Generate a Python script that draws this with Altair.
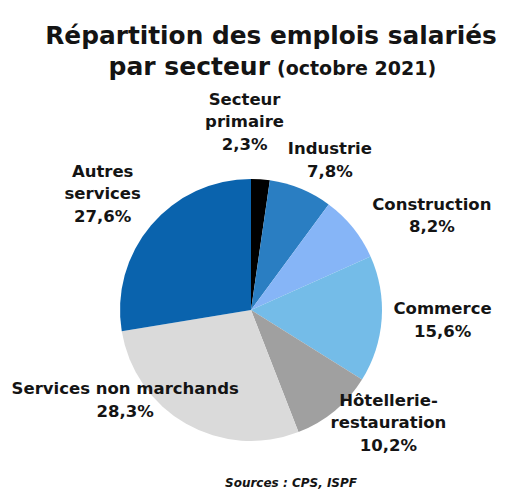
import altair as alt
import pandas as pd
import math

sectors = ["Secteur primaire", "Industrie", "Construction", "Commerce",
           "Hôtellerie-restauration", "Services non marchands", "Autres services"]
shares = [2.3, 7.8, 8.2, 15.6, 10.2, 28.3, 27.6]
labels = ["Secteur\nprimaire\n2,3%", "Industrie\n7,8%", "Construction\n8,2%",
          "Commerce\n15,6%", "Hôtellerie-\nrestauration\n10,2%",
          "Services non marchands\n28,3%", "Autres\nservices\n27,6%"]
colors = ["#000000", "#2A7EC2", "#86B5F7", "#74BCE8", "#A0A0A0", "#DADADA", "#0A63AD"]

df = pd.DataFrame({"secteur": sectors, "part": shares, "label": labels,
                   "ordre": list(range(len(sectors)))})

FONT = "DejaVu Sans"
CX, CY, R = 243, 302, 131
LH = 22.5

pie = alt.Chart(df).mark_arc(radius=R).encode(
    theta=alt.Theta("part:Q", stack=True),
    order=alt.Order("ordre:Q"),
    color=alt.Color("secteur:N", scale=alt.Scale(domain=sectors, range=colors), legend=None),
    x=alt.value(CX), y=alt.value(CY),
)

# label placement: (radius, dx, dy) per sector (dy = block centre offset)
place = {
    "Secteur primaire": (188, -20, 0),
    "Industrie": (168, 15, 6),
    "Construction": (204, 22, 34),
    "Commerce": (192, 0, -3),
    "Hôtellerie-restauration": (178, 24, -24),
    "Services non marchands": (155, -49, -44),
    "Autres services": (188, -5, 6),
}

lab_base = alt.Chart(df).transform_window(
    cum="sum(part)", sort=[alt.SortField("ordre")], frame=[None, 0]
).transform_joinaggregate(total="sum(part)").transform_calculate(
    mid="datum.cum - datum.part / 2"
)

text_layers = []
for s, lab in zip(sectors, labels):
    r, dx, dy = place[s]
    n = lab.count("\n") + 1
    t = lab_base.transform_filter(alt.datum.secteur == s).mark_text(
        radius=r, dx=dx, dy=dy - (n - 1) * LH / 2, font=FONT, fontWeight="bold",
        fontSize=16.5, lineBreak="\n", lineHeight=LH,
        align="center", baseline="middle", color="#141414").encode(
        theta=alt.Theta("mid:Q", stack=None,
                        scale=alt.Scale(domain=[0, 100], range=[0, 2 * math.pi])),
        text="label:N",
        x=alt.value(CX), y=alt.value(CY),
    )
    text_layers.append(t)

title_df = pd.DataFrame({"t1": ["Répartition des emplois salariés"], "t2": ["par secteur"],
                         "t3": ["(octobre 2021)"], "src": ["Sources : CPS, ISPF"]})
tb = alt.Chart(title_df)
t1 = tb.mark_text(font=FONT, fontWeight="bold", fontSize=24.8, align="center",
                  baseline="alphabetic", color="#141414").encode(
    text="t1:N", x=alt.value(263), y=alt.value(36))
t2 = tb.mark_text(font=FONT, fontWeight="bold", fontSize=25, align="right",
                  baseline="alphabetic", color="#141414").encode(
    text="t2:N", x=alt.value(262), y=alt.value(67))
t3 = tb.mark_text(font=FONT, fontWeight="bold", fontSize=19, align="left",
                  baseline="alphabetic", color="#141414").encode(
    text="t3:N", x=alt.value(269), y=alt.value(67))
src = tb.mark_text(font=FONT, fontWeight="bold", fontStyle="italic", fontSize=12,
                   align="center", baseline="middle", color="#141414").encode(
    text="src:N", x=alt.value(283), y=alt.value(475))

chart = alt.layer(pie, *text_layers, t1, t2, t3, src).properties(
    width=489, height=484, padding=0,
    autosize=alt.AutoSizeParams(type="none"),
).resolve_scale(theta="independent").configure_view(stroke=None)

chart.save("out.html", embed_options={"renderer": "svg", "actions": False})
